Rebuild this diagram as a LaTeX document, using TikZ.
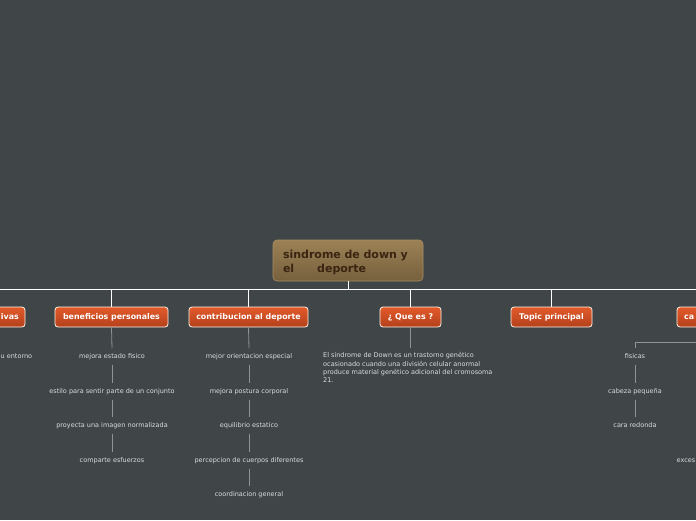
\documentclass[tikz,border=0pt]{standalone}
\usepackage{fontspec}
\setmainfont{DejaVu Sans}
\usetikzlibrary{positioning,calc}
\definecolor{bg}{HTML}{404647}
\definecolor{roottop}{HTML}{9C8155}
\definecolor{rootbot}{HTML}{76603D}
\definecolor{rootborder}{HTML}{A88E62}
\definecolor{roottext}{HTML}{3A2412}
\definecolor{orangetop}{HTML}{E35A2B}
\definecolor{orangebot}{HTML}{B3401B}
\definecolor{childtext}{HTML}{DADCDC}
\definecolor{childline}{HTML}{8E9393}
\tikzset{
  rootbox/.style={draw=rootborder, line width=0.6pt, rounded corners=4pt,
    top color=roottop, bottom color=rootbot, minimum width=150pt, minimum height=41pt,
    text width=130pt, align=left, inner sep=0pt, text=roottext,
    font=\fontsize{11}{14}\selectfont\bfseries},
  boxshape/.style={draw=white!92!orange, line width=0.8pt, rounded corners=3pt,
    top color=orangetop, bottom color=orangebot},
  topicbox/.style={boxshape, minimum height=20pt, inner sep=0pt,
    text=white, font=\fontsize{7.9}{9}\selectfont\bfseries},
  topictext/.style={inner sep=0pt, text=white, font=\fontsize{7.9}{9}\selectfont\bfseries},
  childtxt/.style={text=childtext, inner sep=0pt, minimum height=16pt,
    font=\fontsize{6.5}{8.3}\selectfont},
  mainline/.style={draw=white, line width=0.8pt},
  subline/.style={draw=childline, line width=0.8pt}
}
\begin{document}
\begin{tikzpicture}[x=1pt,y=-1pt]
\fill[bg] (0,0) rectangle (696,520);
\useasboundingbox (0,0) rectangle (696,520);
\clip (0,0) rectangle (696,520);

% root
\node[rootbox] (root) at (348,260.5) {\rule{0pt}{12pt}sindrome de down y\\el\hspace*{23pt}deporte};

% bus
\coordinate (busL) at (-60,289);
\coordinate (busR) at (760,289);
\coordinate (busM) at (348,289);
\draw[mainline] (root.south) -- (busM);
\draw[mainline] (busL) -- (busR);

% topic boxes (the two outer ones are cut by the picture's edges)
\path[boxshape] (-40,307) rectangle (25,327);
\node[topictext, anchor=east] (t0) at (19,317) {ivas};
\node[topicbox, minimum width=113pt] (t1) at (111.5,317) {beneficios personales};
\node[topicbox, minimum width=119pt] (t2) at (248.5,317) {contribucion al deporte};
\node[topicbox, minimum width=61pt] (t3) at (410.5,317) {¿ Que es ?};
\node[topicbox, minimum width=81pt] (t4) at (551.5,317) {Topic principal};
\path[boxshape] (677,307) rectangle (740,327);
\node[topictext, anchor=west] (t5) at (684,317) {ca};

\foreach \t in {t1,t2,t3,t4}{
  \draw[mainline] (\t.north) -- (\t.north |- busM);
}

% left cut child
\node[childtxt, anchor=west] (l1) at (0.5,356.5) {u entorno};

% beneficios personales
\node[childtxt] (b1) at (112,356.5) {mejora estado fisico};
\node[childtxt] (b2) at (112,391.5) {estilo para sentir parte de un conjunto};
\node[childtxt] (b3) at (112,425.5) {proyecta una imagen normalizada};
\node[childtxt] (b4) at (112,460.5) {comparte esfuerzos};
\draw[subline] (t1.south) -- (b1.north);
\draw[subline] (b1) -- (b2);
\draw[subline] (b2) -- (b3);
\draw[subline] (b3) -- (b4);

% contribucion al deporte
\node[childtxt] (c1) at (249,356.5) {mejor orientacion especial};
\node[childtxt] (c2) at (249,391.5) {mejora postura corporal};
\node[childtxt] (c3) at (249,425.5) {equilibrio estatico};
\node[childtxt] (c4) at (249,460.5) {percepcion de cuerpos diferentes};
\node[childtxt] (c5) at (249,494.5) {coordinacion general};
\draw[subline] (t2.south) -- (c1.north);
\draw[subline] (c1) -- (c2);
\draw[subline] (c2) -- (c3);
\draw[subline] (c3) -- (c4);
\draw[subline] (c4) -- (c5);

% que es
\node[text=childtext, inner sep=0pt, anchor=north west, align=left,
  font=\fontsize{6.5}{8.3}\selectfont] (q1) at (323,352.5)
  {El síndrome de Down es un trastorno genético\\
   ocasionado cuando una división celular anormal\\
   produce material genético adicional del cromosoma\\
   21.};
\draw[subline, shorten >=5pt] (t3.south) -- (t3.south |- q1.north);

% caracteristicas (cut)
\coordinate (brR) at (760,342);
\node[childtxt] (f1) at (635,356.5) {fisicas};
\node[childtxt] (f2) at (635,391.5) {cabeza pequeña};
\node[childtxt] (f3) at (635,425.5) {cara redonda};
\draw[subline] (f1.north) -- (f1.north |- brR) -- (brR);
\draw[subline] (f1) -- (f2);
\draw[subline] (f2) -- (f3);
\node[childtxt, anchor=east] (e1) at (695.5,460.5) {exces};
\end{tikzpicture}
\end{document}
